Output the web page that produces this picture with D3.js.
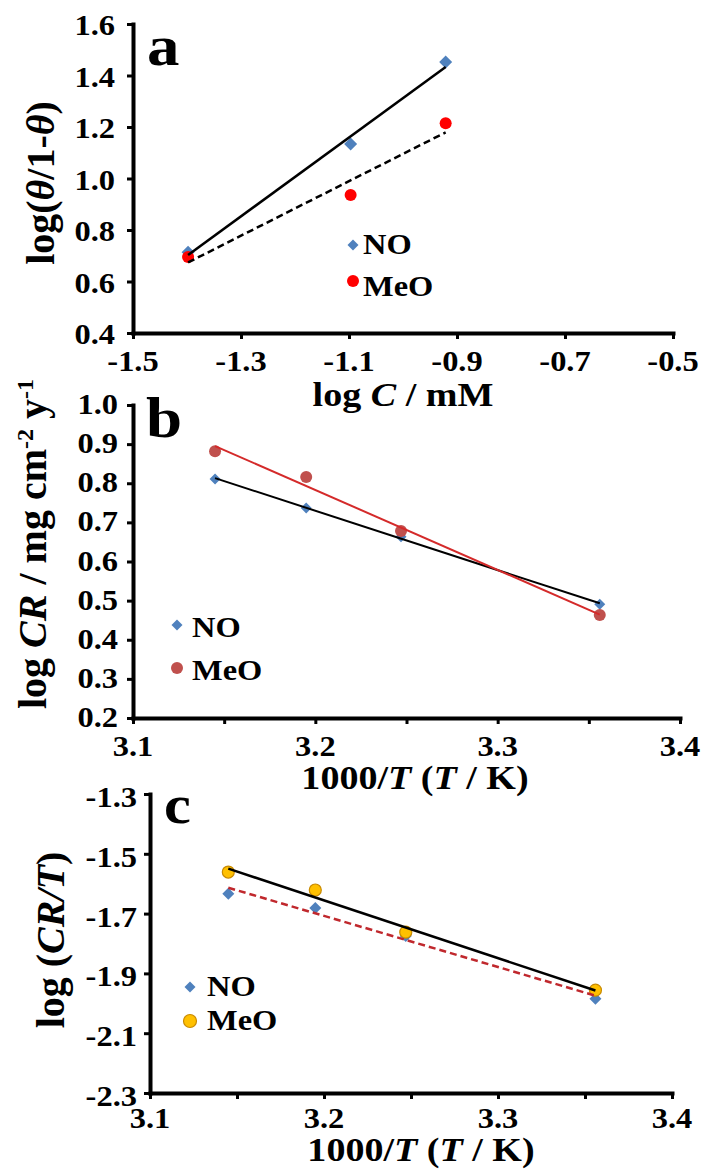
<!DOCTYPE html>
<html>
<head>
<meta charset="utf-8">
<script src="https://cdn.jsdelivr.net/npm/d3@7"></script>
<style>
body { margin: 0; background: #fff; }
svg text { font-family: "Liberation Serif", "Times New Roman", serif; font-weight: bold; fill: #000; }
</style>
</head>
<body>
<svg width="704" height="1170"></svg>
<script>
// panel a : log C vs log(theta/1-theta)
var logC = [-1.398, -1.097, -0.921]
var noA = [0.714, 1.134, 1.452]
var meoA = [0.695, 0.936, 1.215]

// panels b and c : 1000/T
var invT = [3.145, 3.195, 3.247, 3.356]
var noB = [0.811, 0.737, 0.663, 0.491]
var meoB = [0.882, 0.816, 0.678, 0.463]
var noC = [-1.634, -1.681, -1.775, -1.985]
var meoC = [-1.561, -1.621, -1.762, -1.956]

var seriesNames = ['NO', 'MeO']

var xTicksA = [-1.5, -1.3, -1.1, -0.9, -0.7, -0.5]
var yTicksA = [0.4, 0.6, 0.8, 1.0, 1.2, 1.4, 1.6]
var xTicksT = [3.1, 3.15, 3.2, 3.25, 3.3, 3.35, 3.4]
var xLabelsT = [3.1, 3.2, 3.3, 3.4]
var yTicksB = [0.2, 0.3, 0.4, 0.5, 0.6, 0.7, 0.8, 0.9, 1.0]
var yTicksC = [-2.3, -2.1, -1.9, -1.7, -1.5, -1.3]

var svg = d3.select('svg')
var SX = 1.12   // the original picture is a bit wider than tall

var blue = '#4F81BD'

function txt(g, x, y, anchor, size, parts) {
  var t = g.append('text')
    .attr('transform', 'translate(' + x + ',' + y + ') scale(' + SX + ',1)')
    .attr('text-anchor', anchor)
    .attr('font-size', size)
  parts.forEach(function(p) {
    t.append('tspan').attr('font-style', p[1] ? 'italic' : null).text(p[0])
  })
  return t
}

function fit(xs, ys) {
  var mx = d3.mean(xs), my = d3.mean(ys)
  var sxy = d3.sum(xs, function(d, i) { return (d - mx) * (ys[i] - my) })
  var sxx = d3.sum(xs, function(d) { return (d - mx) * (d - mx) })
  var b = sxy / sxx
  return function(x) { return my + b * (x - mx) }
}

function diamond(g, cx, cy, diag) {
  var h = diag / 2
  g.append('path')
    .attr('d', 'M' + cx + ',' + (cy - h) + 'L' + (cx + h) + ',' + cy + 'L' + cx + ',' + (cy + h) + 'L' + (cx - h) + ',' + cy + 'Z')
    .attr('fill', blue)
}

function drawPanel(p) {
  var g = svg.append('g')
  var x = d3.scaleLinear().domain(p.xd).range(p.xr)
  var y = d3.scaleLinear().domain(p.yd).range(p.yr)

  // axes
  var ax = g.append('g').attr('transform', 'translate(0,' + p.yr[0] + ')')
    .call(d3.axisBottom(x).tickValues(p.xt).tickSize(6).tickSizeOuter(0).tickFormat(''))
  var ay = g.append('g').attr('transform', 'translate(' + p.xr[0] + ',0)')
    .call(d3.axisLeft(y).tickValues(p.yt).tickSize(6).tickSizeOuter(0).tickFormat(''))
  ;[ax, ay].forEach(function(a) {
    a.select('.domain').attr('stroke', '#000').attr('stroke-width', 4).attr('stroke-linecap', 'square')
    a.selectAll('.tick line').attr('stroke', '#000').attr('stroke-width', 3)
  })

  p.xl.forEach(function(v) {
    txt(g, x(v), p.yr[0] + p.xlOff, 'middle', 29, [[v.toFixed(1)]])
  })
  p.yt.forEach(function(v) {
    txt(g, p.xr[0] + p.ylOff, y(v) + p.ylDy, 'end', 29, [[v.toFixed(1)]])
  })

  // markers
  p.noY.forEach(function(v, i) { diamond(g, x(p.xs[i]), y(v), p.dSize) })
  g.selectAll('circle.pt').data(p.meoY).enter().append('circle')
    .attr('cx', function(d, i) { return x(p.xs[i]) })
    .attr('cy', function(d) { return y(d) })
    .attr('r', p.cR)
    .attr('fill', p.cFill)
    .attr('stroke', p.cStroke || 'none')
    .attr('stroke-width', 1.2)

  // trend lines
  ;[[p.noY, p.noLine], [p.meoY, p.meoLine]].forEach(function(s) {
    var f = fit(p.xs, s[0])
    var x0 = p.xs[0], x1 = p.xs[p.xs.length - 1]
    g.append('line')
      .attr('x1', x(x0)).attr('y1', y(f(x0)))
      .attr('x2', x(x1)).attr('y2', y(f(x1)))
      .attr('stroke', s[1].color)
      .attr('stroke-width', s[1].w)
      .attr('stroke-dasharray', s[1].dash || null)
  })

  // legend
  var L = p.legend
  diamond(g, L.x, L.y[0], L.d)
  g.append('circle').attr('cx', L.x).attr('cy', L.y[1]).attr('r', L.r)
    .attr('fill', p.cFill).attr('stroke', p.cStroke || 'none').attr('stroke-width', 1.2)
  seriesNames.forEach(function(n, i) {
    txt(g, L.tx, L.ty[i], 'start', 29, [[n]])
  })

  // panel letter
  txt(g, p.letter[1], p.letter[2], 'start', p.letter[3], [[p.letter[0]]])

  // x title
  txt(g, p.xTitle.x, p.xTitle.y, 'middle', 34, p.xTitle.parts)

  // y title
  var yt = g.append('text')
    .attr('transform', 'translate(' + p.yTitle.x + ',' + p.yTitle.y + ') rotate(-90)')
    .attr('text-anchor', 'middle')
    .attr('font-size', p.yTitle.size)
  p.yTitle.parts.forEach(function(q) {
    yt.append('tspan')
      .attr('font-style', q[1] ? 'italic' : null)
      .attr('baseline-shift', q[2] ? 'super' : null)
      .attr('font-size', q[2] ? p.yTitle.size * 0.6 : null)
      .text(q[0])
  })
}

drawPanel({
  xs: logC, noY: noA, meoY: meoA,
  xd: [-1.5, -0.5], xr: [133, 673], yd: [0.4, 1.6], yr: [333, 24],
  xt: xTicksA, xl: xTicksA, yt: yTicksA,
  xlOff: 38, ylOff: -18, ylDy: 11,
  dSize: 13, cR: 6, cFill: '#FF0000',
  noLine: { color: '#000', w: 2.5 },
  meoLine: { color: '#000', w: 2.5, dash: '7,4' },
  legend: { x: 353, y: [245, 281], d: 11, r: 6, tx: 363, ty: [254, 296] },
  letter: ['a', 147, 65, 58],
  xTitle: { x: 403, y: 406, parts: [['log '], ['C', 1], [' / mM']] },
  yTitle: { x: 54, y: 183, size: 40, parts: [['log('], ['\u03B8', 1], ['/1-'], ['\u03B8', 1], [')']] }
})

drawPanel({
  xs: invT, noY: noB, meoY: meoB,
  xd: [3.1, 3.4], xr: [133, 680], yd: [0.2, 1.0], yr: [718, 405],
  xt: xTicksT, xl: xLabelsT, yt: yTicksB,
  xlOff: 38, ylOff: -15, ylDy: 9,
  dSize: 11, cR: 6, cFill: '#C0504D',
  noLine: { color: '#000', w: 2 },
  meoLine: { color: '#D42A2A', w: 2 },
  legend: { x: 177, y: [625, 668], d: 11, r: 6, tx: 192, ty: [637, 680] },
  letter: ['b', 146, 437, 58],
  xTitle: { x: 415, y: 789, parts: [['1000/'], ['T', 1], [' ('], ['T', 1], [' / K)']] },
  yTitle: { x: 46, y: 544, size: 40, parts: [['log '], ['CR', 1], [' / mg cm'], ['-2', 0, 1], [' y'], ['-1', 0, 1]] }
})

drawPanel({
  xs: invT, noY: noC, meoY: meoC,
  xd: [3.1, 3.4], xr: [150, 672], yd: [-2.3, -1.3], yr: [1093, 794],
  xt: xTicksT, xl: xLabelsT, yt: yTicksC,
  xlOff: 35, ylOff: -13, ylDy: 13,
  dSize: 12, cR: 6, cFill: '#FFC000', cStroke: '#C98A00',
  noLine: { color: '#C0282D', w: 2.5, dash: '7,4' },
  meoLine: { color: '#000', w: 2.5 },
  legend: { x: 190, y: [987, 1021], d: 11, r: 6.5, tx: 207, ty: [996, 1030] },
  letter: ['c', 164, 823, 54],
  xTitle: { x: 421, y: 1161, parts: [['1000/'], ['T', 1], [' ('], ['T', 1], [' / K)']] },
  yTitle: { x: 64, y: 940, size: 40, parts: [['log ('], ['CR/T', 1], [')']] }
})
</script>
</body>
</html>
